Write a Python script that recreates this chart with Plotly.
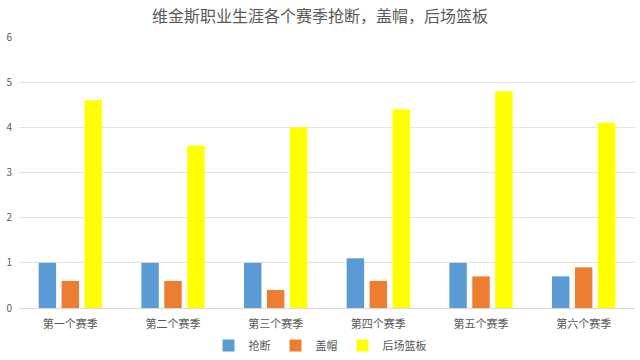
import plotly.graph_objects as go

categories = ["第一个赛季", "第二个赛季", "第三个赛季", "第四个赛季", "第五个赛季", "第六个赛季"]
steals = [1.0, 1.0, 1.0, 1.1, 1.0, 0.7]
blocks = [0.6, 0.6, 0.4, 0.6, 0.7, 0.9]
def_rebounds = [4.6, 3.6, 4.0, 4.4, 4.8, 4.1]
series_names = ["抢断", "盖帽", "后场篮板"]
colors = ["#5B9BD5", "#ED7D31", "#FFFF00"]

font_family = "Noto Sans CJK SC, Noto Sans, sans-serif"

fig = go.Figure()
for name, vals, c in zip(series_names, [steals, blocks, def_rebounds], colors):
    fig.add_trace(go.Bar(name=name, x=categories, y=vals, marker=dict(color=c, line=dict(width=0))))

fig.update_layout(
    width=640, height=360,
    barmode="group", bargap=0.33, bargroupgap=0.24,
    paper_bgcolor="white", plot_bgcolor="white",
    margin=dict(l=19, r=5, t=37, b=52, autoexpand=False),
    title=dict(text="维金斯职业生涯各个赛季抢断，盖帽，后场篮板", x=0.5, xanchor="center",
               y=0.955, yanchor="middle",
               font=dict(family=font_family, size=16, color="#595959")),
    font=dict(family=font_family, size=11, color="#595959"),
    xaxis=dict(showgrid=False, showline=True, linecolor="#D9D9D9", linewidth=1, ticks="",
               tickfont=dict(size=11, color="#595959"), ticklabelstandoff=6, automargin=False),
    yaxis=dict(range=[0, 6], dtick=1, showgrid=True, gridcolor="#E3E3E3", gridwidth=1, zeroline=False,
               showline=False, ticks="", tickfont=dict(size=10, color="#595959"), ticklabelstandoff=6,
               automargin=False),
    legend=dict(orientation="h", x=0.5, xanchor="center", xref="container",
                y=0.04, yanchor="middle", yref="container",
                font=dict(size=11, color="#595959"), itemwidth=30, traceorder="normal"),
)

fig.write_html("out.html", config={"displayModeBar": False},
               post_script="document.body.style.margin='0px';")
